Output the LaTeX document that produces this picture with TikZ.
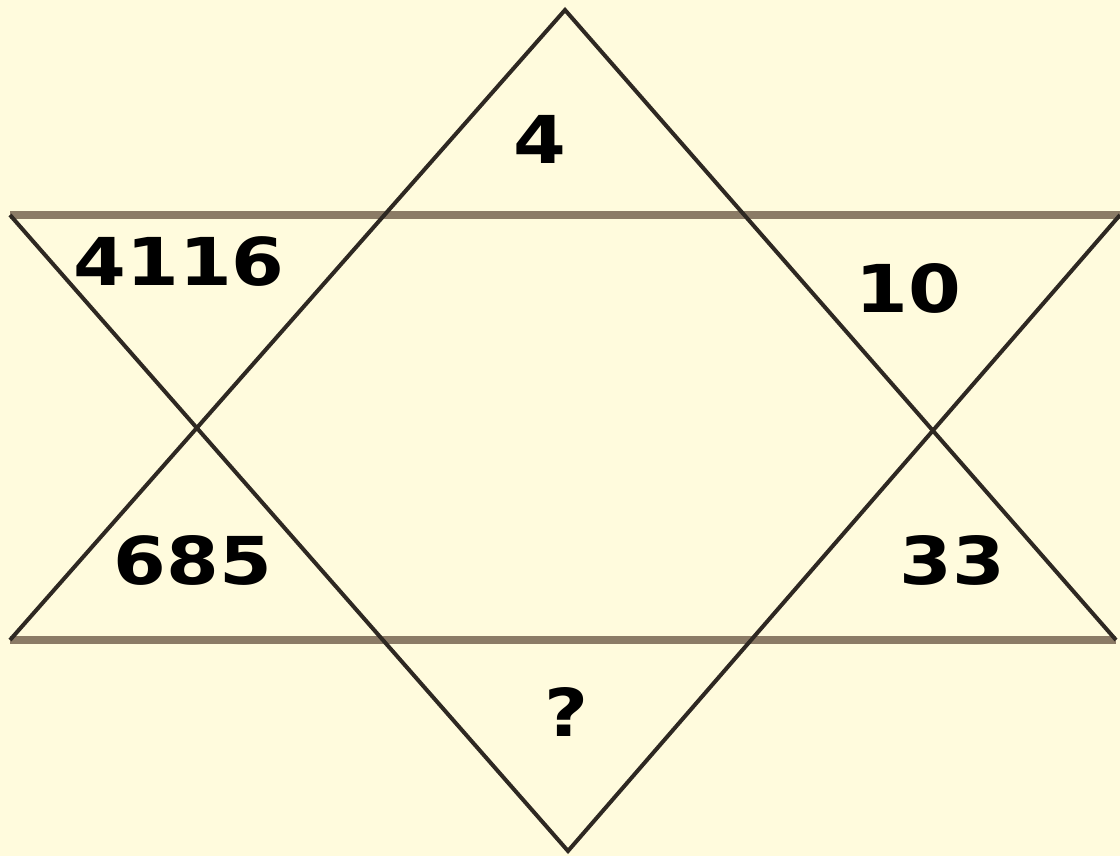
\documentclass[tikz,border=0pt]{standalone}
\usepackage{fontspec}
\setmainfont{DejaVu Sans}
\newfontfamily\numfont[FakeStretch=1.15]{DejaVu Sans}
\usepackage{tikz}
\definecolor{paper}{HTML}{FFFBDD}
\definecolor{bandgray}{HTML}{8B7B66}
\definecolor{edgedark}{HTML}{2E2822}

\begin{document}
\begin{tikzpicture}[x=0.5pt,y=-0.5pt,
  band/.style={draw=bandgray,line width=4pt},
  edge/.style={draw=edgedark,line width=2pt,line join=miter},
  num/.style={font=\numfont\fontsize{33}{36}\selectfont\bfseries,text=black,inner sep=0pt}]

  \fill[paper] (0,0) rectangle (1120,856);
  \useasboundingbox (0,0) rectangle (1120,856);

  % upward triangle
  \coordinate (apex) at (565,10);
  \coordinate (baseL) at (10,640);
  \coordinate (baseR) at (1116,640);
  % downward triangle
  \coordinate (topL) at (10,215);
  \coordinate (topR) at (1120,215);
  \coordinate (foot) at (568,851);

  \draw[band] (topL) -- (topR);
  \draw[band] (baseL) -- (baseR);
  \draw[edge] (baseL) -- (apex) -- (baseR);
  \draw[edge] (topL) -- (foot) -- (topR);

  \node[num] (top)   at (540,139) {4};
  \node[num] (upL)   at (179,262) {4116};
  \node[num] (upR)   at (908,288) {10};
  \node[num] (lowL)  at (193,560) {685};
  \node[num] (lowR)  at (952,560) {33};
  \node[num] (bot)   at (567,712) {?};
\end{tikzpicture}
\end{document}
